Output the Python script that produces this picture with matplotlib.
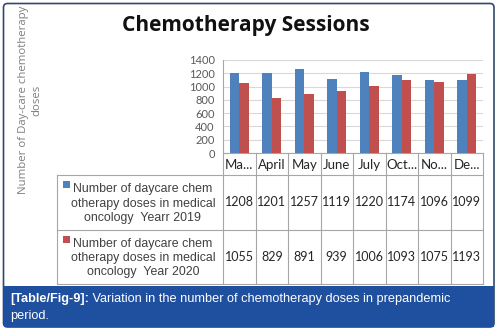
import matplotlib.pyplot as plt
import matplotlib.patches as mpatches
import numpy as np

months = ["Ma...", "April", "May", "June", "July", "Oct...", "No...", "De..."]
doses_2019 = [1208, 1201, 1257, 1119, 1220, 1174, 1096, 1099]
doses_2020 = [1055, 829, 891, 939, 1006, 1093, 1075, 1193]
series_labels = [
    "Number of daycare chem\notherapy doses in medical\noncology  Yearr 2019",
    "Number of daycare chem\notherapy doses in medical\noncology  Year 2020",
]
yticks = [0, 200, 400, 600, 800, 1000, 1200, 1400]

BLUE = "#4f81bd"
RED = "#c0504d"
GRID = "#a6a6a6"
TXT = "#404040"

W, H = 498, 330
fig = plt.figure(figsize=(W / 100, H / 100), dpi=100)

# overlay in pixel coords for frame, table and caption
fx = fig.add_axes([0, 0, 1, 1])
fx.set_xlim(0, W)
fx.set_ylim(H, 0)
fx.axis("off")

# frame and caption band
fx.add_patch(mpatches.FancyBboxPatch((3.5, 3.5), 490.5, 323.5,
                                     boxstyle="round,pad=0,rounding_size=4",
                                     fc="white", ec="#2d4a6c", lw=1.2, zorder=0))
fx.add_patch(mpatches.Rectangle((3.5, 286), 490.5, 41, fc="#1f4f9f", ec="none", zorder=1))
tb = fx.text(10, 299, "[Table/Fig-9]:", color="white", fontsize=9.2, fontweight="bold",
             family="Liberation Sans", va="center")
fx.annotate(" Variation in the number of chemotherapy doses in prepandemic",
            xy=(1, 0.5), xycoords=tb, color="white", fontsize=9.2,
            family="Liberation Sans", va="center")
fx.text(10, 316, "period.", color="white", fontsize=9.2, family="Liberation Sans", va="center")

# title and y label
fx.text(246, 25, "Chemotherapy Sessions", fontsize=15, fontweight="bold",
        family="Open Sans", ha="center", va="center", color="#111111")
fx.text(30, 100, "Number of Day-care chemotherapy\ndoses", rotation=90, fontsize=8.2,
        family="Open Sans", ha="center", va="center", color="#7f7f7f",
        linespacing=1.3)

# bar axes
x0, x1 = 223, 483
y_top, y_bot = 60, 153
ax = fig.add_axes([x0 / W, 1 - y_bot / H, (x1 - x0) / W, (y_bot - y_top) / H])
x = np.arange(len(months))
bw = 0.29
ax.bar(x - bw / 2, doses_2019, bw, color=BLUE, zorder=3)
ax.bar(x + bw / 2, doses_2020, bw, color=RED, zorder=3)
ax.set_xlim(-0.5, len(months) - 0.5)
ax.set_ylim(0, 1400)
ax.set_yticks(yticks)
ax.set_yticklabels([str(v) for v in yticks], family="Lato", fontsize=8, color="#595959")
ax.tick_params(axis="y", length=0, pad=6)
ax.set_xticks([])
ax.yaxis.grid(True, color="#d9d9d9", lw=0.8, zorder=0)
for s in ["top", "right"]:
    ax.spines[s].set_visible(False)
ax.spines["left"].set_color(GRID)
ax.spines["bottom"].set_color(GRID)
ax.set_facecolor("none")

# data table below
col_w = (x1 - x0) / len(months)
edges = [x0 + i * col_w for i in range(len(months) + 1)]
rows_y = [153, 175, 230, 284]
lab_left = 57
lw = 0.8
for e in edges:
    fx.plot([e, e], [rows_y[0], rows_y[-1]], color=GRID, lw=lw, zorder=2)
fx.plot([lab_left, lab_left], [rows_y[1], rows_y[-1]], color=GRID, lw=lw, zorder=2)
for y in rows_y[1:]:
    fx.plot([lab_left, x1 - 1.5], [y, y], color=GRID, lw=lw, zorder=2)

for i, m in enumerate(months):
    cx = (edges[i] + edges[i + 1]) / 2
    fx.text(cx, 165, m, ha="center", va="center", fontsize=9.5, family="Lato", color="#262626")
    fx.text(cx, (rows_y[1] + rows_y[2]) / 2, str(doses_2019[i]), ha="center", va="center",
            fontsize=9, family="Lato", color="#262626")
    fx.text(cx, (rows_y[2] + rows_y[3]) / 2, str(doses_2020[i]), ha="center", va="center",
            fontsize=9, family="Lato", color="#262626")

for r, (lab, col) in enumerate(zip(series_labels, [BLUE, RED])):
    cy = (rows_y[r + 1] + rows_y[r + 2]) / 2
    fx.text(143, cy + 1, lab, ha="center", va="center", multialignment="center",
            fontsize=8.9, family="Liberation Sans", color=TXT, linespacing=1.25)
    fx.add_patch(mpatches.Rectangle((63, rows_y[r + 1] + 6), 6.5, 6.5, fc=col, ec="none"))

fig.savefig("out.png", dpi=100)
